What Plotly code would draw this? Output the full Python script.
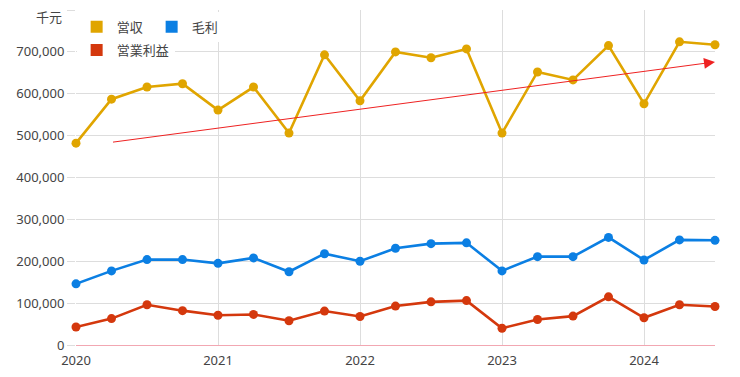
import plotly.graph_objects as go

quarters = [2020.0, 2020.25, 2020.5, 2020.75, 2021.0, 2021.25, 2021.5, 2021.75,
            2022.0, 2022.25, 2022.5, 2022.75, 2023.0, 2023.25, 2023.5, 2023.75,
            2024.0, 2024.25, 2024.5]
revenue = [482000, 587000, 616000, 624000, 561000, 616000, 506000, 693000,
           583000, 700000, 686000, 707000, 506000, 652000, 633000, 715000,
           576000, 724000, 717000]
gross_profit = [146000, 177000, 204000, 204000, 195000, 208000, 175000, 218000,
                200000, 231000, 242000, 244000, 177000, 211000, 211000, 257000,
                203000, 251000, 250000]
operating_profit = [43000, 63000, 96000, 82000, 71000, 73000, 58000, 81000,
                    68000, 93000, 103000, 106000, 40000, 61000, 69000, 115000,
                    65000, 96000, 92000]
trend_x = [2020.25, 2024.5]
trend_y = [484000, 676000]

names = ["営収", "毛利", "営業利益"]
colors = ["#E0A500", "#0B7FE3", "#D4380D"]
series = [revenue, gross_profit, operating_profit]
legends = ["legend", "legend", "legend2"]

FONT = "Noto Sans, Noto Sans CJK JP, sans-serif"

fig = go.Figure()
for name, col, vals in zip(names, colors, series):
    fig.add_trace(go.Scatter(
        x=quarters, y=vals, mode="lines+markers", name=name,
        line=dict(color=col, width=2.6),
        marker=dict(color=col, size=9),
        cliponaxis=False, showlegend=False, hoverinfo="x+y",
    ))
# legend entries (square swatches)
for name, col, lg in zip(names, colors, legends):
    fig.add_trace(go.Scatter(
        x=[None], y=[None], mode="markers", name=name, legend=lg,
        marker=dict(color=col, size=12, symbol="square"), showlegend=True,
    ))

fig.add_annotation(
    x=trend_x[1], y=trend_y[1], ax=trend_x[0], ay=trend_y[0],
    xref="x", yref="y", axref="x", ayref="y", text="",
    showarrow=True, arrowhead=2, arrowsize=2.2, arrowwidth=1,
    arrowcolor="#EE2222", standoff=0,
)
fig.add_annotation(
    x=0, y=1, xref="paper", yref="paper", text="千元", showarrow=False,
    xanchor="right", yanchor="middle", xshift=-12, yshift=-7,
    font=dict(family=FONT, size=13, color="#444"),
)

# page body has an 8px default margin, so the figure is offset by 8px
fig.update_layout(
    width=724, height=361,
    margin=dict(l=68, r=17, t=2, b=24, autoexpand=False),
    paper_bgcolor="white", plot_bgcolor="white",
    font=dict(family=FONT, size=13, color="#444"),
    legend=dict(orientation="h", x=0.001, y=0.995, xanchor="left", yanchor="top",
                bgcolor="white", entrywidth=30, itemwidth=30,
                font=dict(family=FONT, size=13, color="#444"),
                tracegroupgap=0),
    legend2=dict(orientation="h", x=0.001, y=0.925, xanchor="left", yanchor="top",
                 bgcolor="white", itemwidth=30,
                 font=dict(family=FONT, size=13, color="#444")),
    showlegend=True,
)
fig.update_xaxes(range=[2020, 2024.5], dtick=1, tick0=2020, tickformat="d",
                 showgrid=True, gridcolor="#DDDDDD", gridwidth=1, automargin=False,
                 zeroline=False, showline=False, ticks="", ticklabelstandoff=6)
fig.update_yaxes(range=[0, 800000], tickvals=[0, 100000, 200000, 300000, 400000,
                 500000, 600000, 700000, 800000],
                 ticktext=["0", "100,000", "200,000", "300,000", "400,000",
                           "500,000", "600,000", "700,000", ""],
                 showgrid=True, gridcolor="#DDDDDD", gridwidth=1, automargin=False,
                 zeroline=True, zerolinecolor="#F2A7B2", zerolinewidth=1,
                 ticks="outside", ticklen=8, tickcolor="#DDDDDD",
                 showline=False)

fig.write_html("out.html")
